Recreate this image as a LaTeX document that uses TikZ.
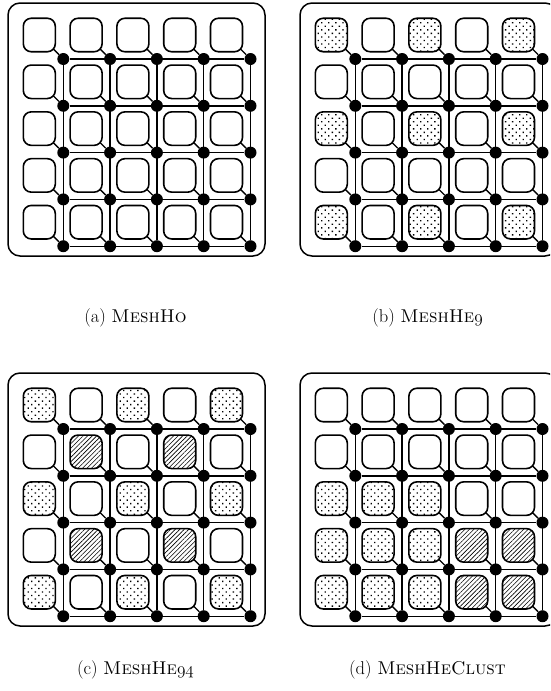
\documentclass[tikz,border=0pt]{standalone}
\usepackage{fontspec}
\usetikzlibrary{patterns.meta}
\pgfdeclarelayer{background}
\pgfsetlayers{background,main}
\newcommand\osf[1]{{\usefont{OML}{cmm}{m}{it}#1}}
\tikzset{
  tilebase/.style={draw, line width=1.6pt, rounded corners=8pt, minimum width=32pt, minimum height=33.5pt, inner sep=0pt, fill=white},
  plaintile/.style={tilebase},
  dottile/.style={tilebase, postaction={pattern={Dots[distance=5pt, angle=45, radius=0.95pt]}}},
  hatchtile/.style={tilebase, postaction={pattern={Lines[angle=45, distance=3.2pt, line width=0.6pt]}}},
  router/.style={circle, fill=black, minimum size=12pt, inner sep=0pt},
  link/.style={line width=1.4pt},
  frame/.style={draw, line width=1.5pt, rounded corners=12pt, minimum width=257pt, minimum height=253pt, inner sep=0pt},
  caption/.style={font=\fontsize{18.5}{22}\selectfont, anchor=base, inner sep=0pt}
}
\newcommand\meshpanel[4]{%
  \node[frame] (#1-frame) at ({136.5+#2},{129.5+#3}) {};
  \foreach \i in {0,...,4}{\foreach \j in {0,...,4}{%
    \pgfmathtruncatemacro\kind{#4}%
    \ifcase\kind \def\ts{plaintile}\or \def\ts{dottile}\or \def\ts{hatchtile}\fi
    \node[\ts] (#1-t-\i-\j) at ({39.3+46.8*\j+#2},{35+46.8*\i+#3}) {};
    \node[router] (#1-r-\i-\j) at ({63.3+46.8*\j+#2},{59+46.8*\i+#3}) {};
  }}
  \begin{pgfonlayer}{background}
  \foreach \i in {0,...,4}{
    \draw[link] (#1-r-\i-0) -- (#1-r-\i-4);
    \draw[link] (#1-r-0-\i) -- (#1-r-4-\i);
    \foreach \j in {0,...,4}{\draw[link] (#1-t-\i-\j.center) -- (#1-r-\i-\j);}
  }
  \end{pgfonlayer}
}
\begin{document}
\begin{tikzpicture}[x=1pt,y=-1pt]
\useasboundingbox (0,0) rectangle (550,691);
\clip (0,0) rectangle (550,691);
\meshpanel{a}{0}{0}{0}
\meshpanel{b}{292}{0}{(mod(\i,2)==0)*(mod(\j,2)==0)}
\meshpanel{c}{0}{370}{(mod(\i,2)==0)*(mod(\j,2)==0)+2*(mod(\i,2)==1)*(mod(\j,2)==1)}
\meshpanel{d}{292}{370}{(\i>=2)*(\j<=2)+2*(\i>=3)*(\j>=3)}
\node[caption] (cap-a) at (135.5,322) {(a) \textsc{MeshHo}};
\node[caption] (cap-b) at (427.5,322) {(b) \textsc{MeshHe}\osf{9}};
\node[caption] (cap-c) at (135.5,674) {(c) \textsc{MeshHe}\osf{94}};
\node[caption] (cap-d) at (427.5,674) {(d) \textsc{MeshHeClust}};
\end{tikzpicture}
\end{document}
